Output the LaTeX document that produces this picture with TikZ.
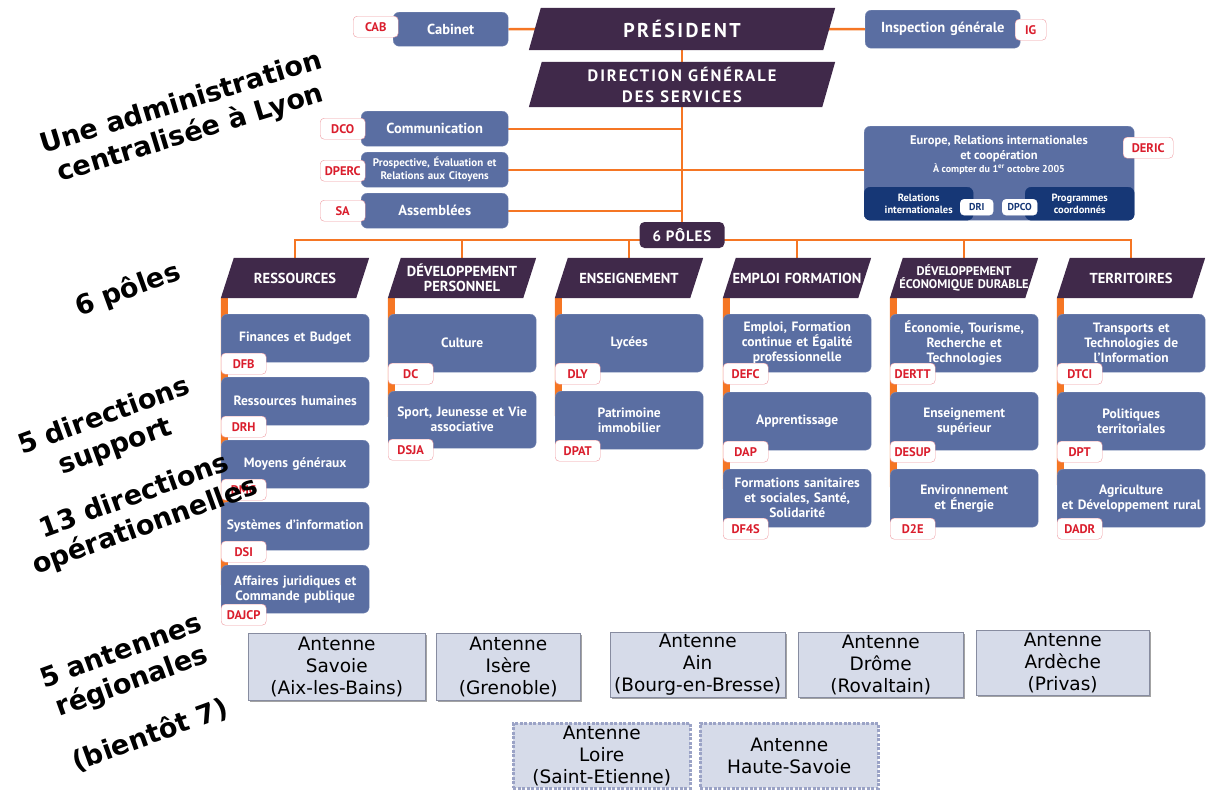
\documentclass[tikz,border=0pt]{standalone}
\usepackage{fontspec}
\setmainfont{PT Sans}
\newfontfamily\sidefont{DejaVu Sans}
\newfontfamily\antfont{DejaVu Sans}
\usetikzlibrary{backgrounds,shadows,calc}
\definecolor{boxblue}{RGB}{90,110,162}
\definecolor{hdrcol}{RGB}{64,41,74}
\definecolor{orng}{RGB}{245,118,36}
\definecolor{codered}{RGB}{218,30,45}
\definecolor{navy}{RGB}{22,55,118}
\definecolor{antfill}{RGB}{214,219,233}
\definecolor{antdraw}{RGB}{135,140,160}
\definecolor{antdash}{RGB}{155,163,198}
\tikzset{link/.style={draw=orng,line width=2.4},bar/.style={draw=orng,line width=7},
 dirbox/.style={fill=boxblue,draw=boxblue!80!white,rounded corners=6,text=white,align=center,minimum width=148,text width=144,inner sep=2,font=\bfseries\fontsize{13.5}{15}\selectfont},
 codelbl/.style={fill=white,draw=codered!45,rounded corners=4,text=codered,minimum width=45,minimum height=21,inner sep=2,font=\bfseries\fontsize{12.5}{12}\selectfont},
 hdr/.style={minimum width=148,minimum height=40,text width=136,inner sep=0,align=center,text=white,font=\bfseries\fontsize{14.5}{15}\selectfont},
 antenne/.style={fill=antfill,draw=antdraw,align=center,inner sep=1,font=\antfont\fontsize{18.5}{22}\selectfont,drop shadow={shadow xshift=1.5pt,shadow yshift=-1.5pt,fill=black!45,opacity=.8}},
 future/.style={fill=antfill,draw=antdash,line width=2.5,dash pattern=on 3pt off 1.5pt,align=center,inner sep=1,font=\antfont\fontsize{18.5}{22}\selectfont},
 side/.style={font=\sidefont\bfseries\fontsize{27}{32}\selectfont,align=center}}
\newcommand{\dirnode}[6]{%
 \node[dirbox,minimum height=#4,anchor=north west] (#1) at (#2,#3) {#5};
 \node[codelbl,anchor=north west] (#1c) at ({#2},{#3+#4-9}) {#6};}
\newcommand{\slantfill}[2]{\fill[hdrcol] ([xshift=#2]#1.north west) -- (#1.north east) -- ([xshift=-#2]#1.south east) -- (#1.south west) -- cycle;}
\begin{document}
\begin{tikzpicture}[x=1pt,y=-1pt]
\useasboundingbox (0,0) rectangle (1210,790);
% direction
\node[minimum width=306,minimum height=42,text=white,font=\bfseries\fontsize{20}{22}\selectfont\addfontfeature{LetterSpace=12}] (pres) at (682,29) {PRÉSIDENT};
\node[minimum width=306,minimum height=45,align=center,text=white,font=\bfseries\fontsize{16.5}{21}\selectfont\addfontfeature{LetterSpace=12}] (dgs) at (682,84.5) {DIRECTION GÉNÉRALE\\DES SERVICES};
\node[dirbox,minimum width=115,text width=109,minimum height=34,anchor=north west,font=\bfseries\fontsize{14.5}{16}\selectfont] (cab) at (393,12) {Cabinet};
\node[codelbl,anchor=north west] (cabc) at (353,16) {CAB};
\node[dirbox,minimum width=155,text width=149,minimum height=38,anchor=north west,font=\bfseries\fontsize{14.5}{16}\selectfont] (ig) at (865,10) {Inspection générale};
\node[codelbl,anchor=north west,minimum width=31] (igc) at (1015,19) {IG};
\node[dirbox,minimum width=147,text width=141,minimum height=35,anchor=north west,font=\bfseries\fontsize{14.5}{16}\selectfont] (com) at (361,111) {Communication};
\node[codelbl,anchor=north west] (comc) at (320,118) {DCO};
\node[dirbox,minimum width=147,text width=141,minimum height=35,anchor=north west,font=\bfseries\fontsize{11}{13}\selectfont] (prosp) at (361,152) {Prospective, Évaluation et\\Relations aux Citoyens};
\node[codelbl,anchor=north west] (prospc) at (320,160) {DPERC};
\node[dirbox,minimum width=147,text width=141,minimum height=35,anchor=north west,font=\bfseries\fontsize{14.5}{16}\selectfont] (ass) at (361,193) {Assemblées};
\node[codelbl,anchor=north west] (assc) at (320,200) {SA};
% europe
\node[dirbox,minimum width=270,minimum height=94,anchor=north west] (eur) at (864,126) {};
\node[dirbox,fill=navy,draw=navy,minimum width=109,text width=92,minimum height=33,anchor=north west,font=\bfseries\fontsize{10.5}{12}\selectfont] (ri) at (864,187) {Relations\\internationales};
\node[dirbox,fill=navy,draw=navy,minimum width=109,text width=92,minimum height=33,anchor=north west,font=\bfseries\fontsize{10.5}{12}\selectfont] (pc) at (1025,187) {Programmes\\coordonnés};
\node[codelbl,text=navy,draw=white,minimum width=33,minimum height=16,font=\bfseries\fontsize{10}{10}\selectfont,anchor=north west] (dri) at (960,199) {DRI};
\node[codelbl,text=navy,draw=white,minimum width=35,minimum height=16,font=\bfseries\fontsize{10}{10}\selectfont,anchor=north west] (dpco) at (1002,199) {DPCO};
\node[text=white,align=center,font=\bfseries\fontsize{12.5}{15}\selectfont] (eurt) at (999,155) {Europe, Relations internationales\\et coopération\\[-2pt]{\fontsize{10}{12}\selectfont À compter du 1\textsuperscript{er} octobre 2005}};
\node[codelbl,anchor=north west,minimum width=50] (ericc) at (1123,137) {DERIC};
% poles
\node[fill=hdrcol,rounded corners=5,text=white,minimum width=85,minimum height=26,inner sep=0,font=\bfseries\fontsize{15}{15}\selectfont\addfontfeature{LetterSpace=6}] (poles) at (682,235) {6 PÔLES};
\node[hdr] (h1) at (295,278) {RESSOURCES};
\node[hdr] (h2) at (462,278) {DÉVELOPPEMENT\\PERSONNEL};
\node[hdr] (h3) at (629,278) {ENSEIGNEMENT};
\node[hdr] (h4) at (797,278) {EMPLOI FORMATION};
\node[hdr,font=\bfseries\fontsize{12.5}{13}\selectfont] (h5) at (964,278) {DÉVELOPPEMENT\\ÉCONOMIQUE DURABLE};
\node[hdr] (h6) at (1131,278) {TERRITOIRES};
\dirnode{fb}{221}{314}{48}{Finances et Budget}{DFB}
\dirnode{rh}{221}{377}{48}{Ressources humaines}{DRH}
\dirnode{mg}{221}{440}{48}{Moyens généraux}{DMG}
\dirnode{si}{221}{502}{48}{Systèmes d’information}{DSI}
\dirnode{ajcp}{221}{565}{48}{Affaires juridiques et\\Commande publique}{DAJCP}
\dirnode{cult}{388}{314}{58}{Culture}{DC}
\dirnode{sjva}{388}{391}{57}{Sport, Jeunesse et Vie\\associative}{DSJA}
\dirnode{lyc}{555}{314}{58}{Lycées}{DLY}
\dirnode{pat}{555}{391}{58}{Patrimoine\\immobilier}{DPAT}
\dirnode{efc}{723}{314}{58}{Emploi, Formation\\continue et Égalité\\professionnelle}{DEFC}
\dirnode{app}{723}{392}{58}{Apprentissage}{DAP}
\dirnode{f4s}{723}{469}{58}{Formations sanitaires\\et sociales, Santé,\\Solidarité}{DF4S}
\dirnode{ertt}{890}{314}{58}{Économie, Tourisme,\\Recherche et\\Technologies}{DERTT}
\dirnode{esup}{890}{392}{58}{Enseignement\\supérieur}{DESUP}
\dirnode{dde}{890}{469}{58}{Environnement\\et Énergie}{D2E}
\dirnode{tci}{1057}{314}{58}{Transports et\\Technologies de\\l’Information}{DTCI}
\dirnode{pt}{1057}{392}{58}{Politiques\\territoriales}{DPT}
\dirnode{adr}{1057}{469}{58}{Agriculture\\et Développement rural}{DADR}
% antennes
\node[antenne,minimum width=177,minimum height=67,anchor=north west] (sav) at (248,633) {Antenne\\Savoie\\(Aix-les-Bains)};
\node[antenne,minimum width=144,minimum height=67,anchor=north west] (ise) at (436,633) {Antenne\\Isère\\(Grenoble)};
\node[antenne,minimum width=175,minimum height=65,anchor=north west] (ain) at (610,632) {Antenne\\Ain\\(Bourg-en-Bresse)};
\node[antenne,minimum width=165,minimum height=65,anchor=north west] (dro) at (798,632) {Antenne\\Drôme\\(Rovaltain)};
\node[antenne,minimum width=173,minimum height=65,anchor=north west] (ard) at (976,630) {Antenne\\Ardèche\\(Privas)};
\node[future,minimum width=177,minimum height=65,anchor=north west] (loi) at (512,722) {Antenne\\Loire\\(Saint-Etienne)};
\node[future,minimum width=178,minimum height=65,anchor=north west] (hsa) at (699,722) {Antenne\\Haute-Savoie};
\begin{scope}[on background layer]
\draw[link] (cab.east) -- (pres.center) -- (ig.west);
\draw[link] (pres.center) -- (poles.center);
\draw[link] (com.east) -- (com.east -| pres.center);
\draw[link] (prosp.east) -- (prosp.east -| eur.west);
\draw[link] (ass.east) -- (ass.east -| pres.center);
\draw[link] ([yshift=-5pt]poles.center) -| (h1.north);
\draw[link] ([yshift=-5pt]poles.center) -| (h2.north);
\draw[link] ([yshift=-5pt]poles.center) -| (h3.north);
\draw[link] ([yshift=-5pt]poles.center) -| (h4.north);
\draw[link] ([yshift=-5pt]poles.center) -| (h5.north);
\draw[link] ([yshift=-5pt]poles.center) -| (h6.north);
\draw[bar] ([xshift=3.5pt]h1.south west) -- ([xshift=3.5pt]ajcp.west);
\draw[bar] ([xshift=3.5pt]h2.south west) -- ([xshift=3.5pt]sjva.west);
\draw[bar] ([xshift=3.5pt]h3.south west) -- ([xshift=3.5pt]pat.west);
\draw[bar] ([xshift=3.5pt]h4.south west) -- ([xshift=3.5pt]f4s.west);
\draw[bar] ([xshift=3.5pt]h5.south west) -- ([xshift=3.5pt]dde.west);
\draw[bar] ([xshift=3.5pt]h6.south west) -- ([xshift=3.5pt]adr.west);
\slantfill{pres}{12pt}
\slantfill{dgs}{13pt}
\slantfill{h1}{13pt}
\slantfill{h2}{13pt}
\slantfill{h3}{13pt}
\slantfill{h4}{13pt}
\slantfill{h5}{13pt}
\slantfill{h6}{13pt}
\end{scope}
% commentaires
\node[side,rotate=17] (lyon) at (186,119) {Une administration\\centralisée à Lyon};
\node[side,rotate=20] (polestxt) at (128,290) {6 pôles};
\node[side,rotate=20] (supp) at (110,432) {5 directions\\support};
\node[side,rotate=20] (oper) at (140,512) {13 directions\\opérationnelles};
\node[side,rotate=20] (antx) at (127,668) {5 antennes\\régionales};
\node[side,rotate=20] (bient) at (150,735) {(bientôt 7)};
\end{tikzpicture}
\end{document}
